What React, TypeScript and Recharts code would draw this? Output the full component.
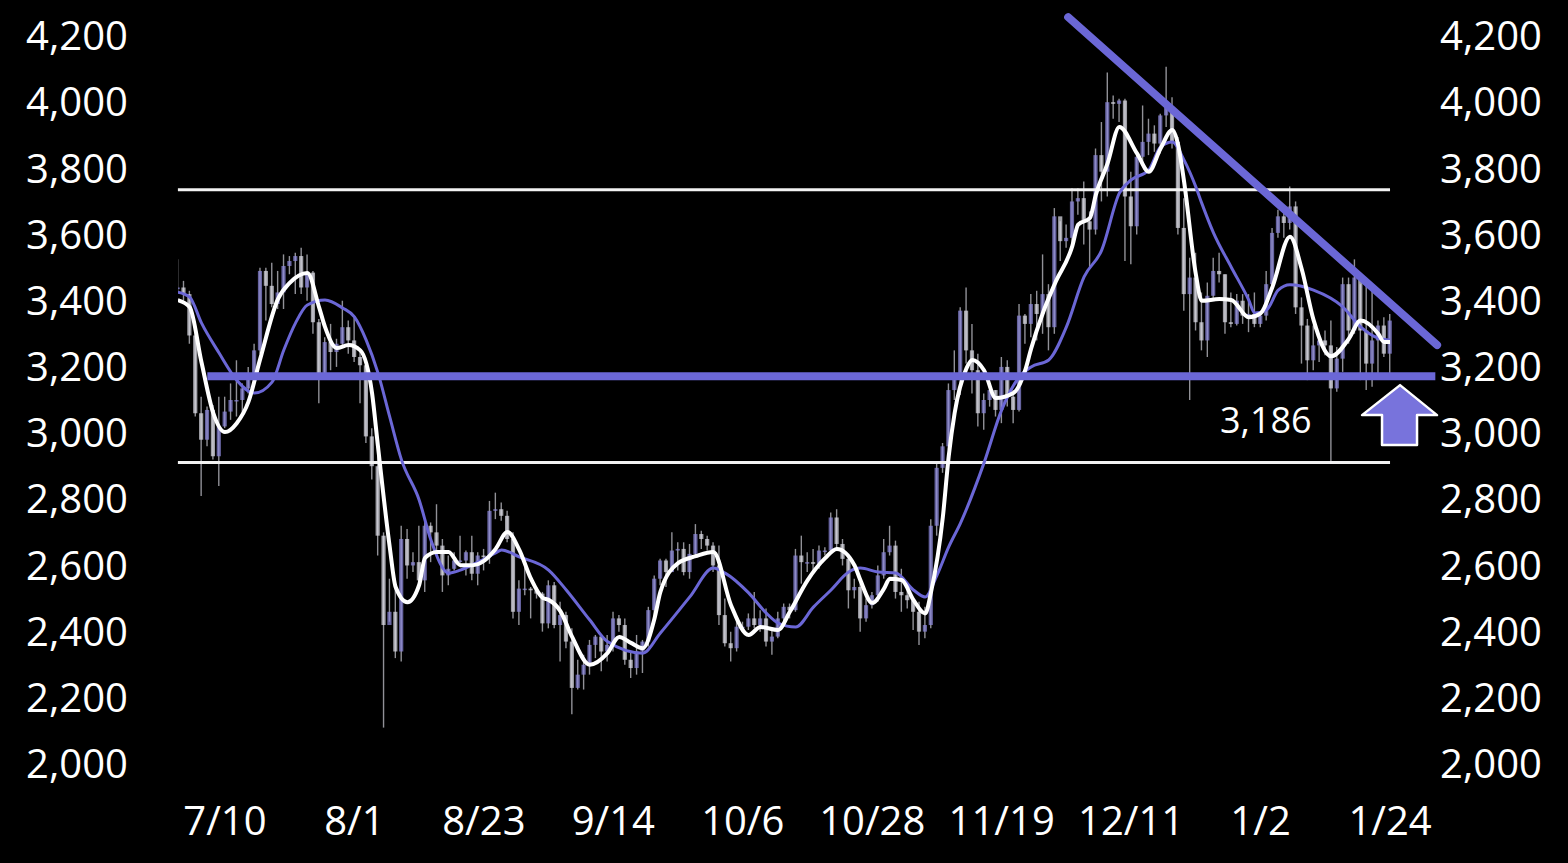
import {
  ComposedChart, Bar, Line, XAxis, YAxis, ReferenceLine, ReferenceDot,
} from 'recharts';

// x = days from 7/10 (first candle sits 8 days before the 7/10 tick)
const FIRST_DAY = -8;
const FIRST_OPEN = 3435;

const xTicks = [0, 22, 44, 66, 88, 110, 132, 154, 176, 198];
const xTickLabels = ['7/10', '8/1', '8/23', '9/14', '10/6', '10/28', '11/19', '12/11', '1/2', '1/24'];
const yTicks = [2000, 2200, 2400, 2600, 2800, 3000, 3200, 3400, 3600, 3800, 4000, 4200];

// daily closes (one per candle)
const closes = [
  // jul
  3440, 3420, 3295, 3060, 2980, 3070, 2930, 3020, 3065, 3100, 3100, 3135, 3175, 3250, 3490, 3445,
  3390, 3425, 3505, 3520, 3535, 3440, 3485, 3335, 3175, 3275, 3245, 3270, 3320, 3280, 3230,
  // aug
  3205, 2990, 2900, 2690, 2420, 2460, 2340, 2680, 2600, 2610, 2555, 2720, 2700, 2660, 2570, 2590,
  2615, 2615, 2640, 2575, 2630, 2625, 2765, 2770, 2750, 2680, 2460, 2530, 2530, 2525, 2515,
  // sep
  2425, 2540, 2420, 2450, 2370, 2230, 2270, 2300, 2360, 2385, 2340, 2360, 2440, 2420, 2315,
  2290, 2340, 2370, 2465, 2560, 2615, 2580, 2645, 2650, 2580, 2635, 2695, 2680, 2660, 2600,
  // oct
  2450, 2365, 2350, 2415, 2415, 2440, 2420, 2440, 2370, 2385, 2440, 2475, 2465, 2630, 2610, 2610,
  2605, 2645, 2645, 2745, 2665, 2620, 2525, 2535, 2440, 2480, 2510, 2570, 2640, 2660, 2520,
  // nov
  2510, 2495, 2460, 2400, 2420, 2720, 2895, 2960, 3130, 3180, 3370, 3250, 3190, 3060, 3100,
  3130, 3070, 3200, 3110, 3070, 3355, 3330, 3390, 3360, 3420, 3320, 3655, 3580, 3590, 3700,
  // dec
  3710, 3640, 3615, 3840, 3790, 4000, 3995, 4005, 3715, 3625, 3835, 3880, 3905, 3875, 3960, 3985,
  3880, 3620, 3420, 3470, 3335, 3280, 3415, 3490, 3480, 3335, 3330, 3400, 3355, 3360, 3330,
  // jan
  3355, 3450, 3605, 3655, 3635, 3685, 3380, 3325, 3220, 3265, 3280, 3265, 3135, 3225, 3450, 3310,
  3470, 3310, 3210, 3280, 3325, 3240, 3340,
];

const highs = [
  3525, 3460, 3430, 3305, 3110, 3080, 3085, 3110, 3110, 3150, 3220, 3150, 3200, 3270, 3500, 3500,
  3515, 3490, 3540, 3535, 3545, 3560, 3540, 3490, 3345, 3290, 3330, 3285, 3400, 3340, 3350,
  3245, 3220, 3015, 2935, 2700, 2560, 2560, 2720, 2710, 2640, 2720, 2740, 2730, 2785, 2680, 2630,
  2640, 2690, 2645, 2690, 2640, 2650, 2795, 2820, 2790, 2765, 2700, 2555, 2600, 2535, 2535,
  2520, 2555, 2550, 2490, 2460, 2410, 2315, 2330, 2375, 2390, 2390, 2390, 2460, 2450, 2440,
  2340, 2390, 2375, 2475, 2570, 2620, 2620, 2700, 2670, 2670, 2665, 2725, 2705, 2690, 2670,
  2660, 2500, 2400, 2440, 2430, 2455, 2520, 2465, 2470, 2410, 2460, 2485, 2485, 2650, 2690, 2640,
  2650, 2660, 2655, 2760, 2770, 2680, 2630, 2560, 2560, 2500, 2520, 2600, 2680, 2720, 2675,
  2590, 2530, 2500, 2490, 2475, 2740, 2910, 2970, 3150, 3250, 3380, 3440, 3330, 3240, 3120,
  3150, 3130, 3230, 3220, 3130, 3390, 3360, 3420, 3430, 3540, 3450, 3680, 3640, 3630, 3740,
  3740, 3760, 3670, 3860, 3940, 4090, 4020, 4010, 4010, 3790, 3845, 3990, 3950, 3930, 3965, 4107,
  4015, 3895, 3710, 3530, 3545, 3425, 3455, 3530, 3545, 3480, 3425, 3420, 3420, 3420, 3425,
  3365, 3490, 3620, 3675, 3675, 3745, 3700, 3410, 3345, 3325, 3300, 3310, 3340, 3260, 3470, 3470,
  3525, 3450, 3450, 3450, 3340, 3350, 3360,
];

const lows = [
  3420, 3400, 3270, 3050, 2810, 2960, 2920, 2840, 3015, 3040, 3050, 3050, 3120, 3160, 3240, 3340,
  3380, 3375, 3375, 3480, 3420, 3420, 3400, 3300, 3090, 3170, 3190, 3200, 3260, 3240, 3215,
  3090, 2970, 2860, 2630, 2110, 2430, 2320, 2310, 2560, 2580, 2540, 2520, 2610, 2640, 2520, 2540,
  2585, 2605, 2570, 2555, 2540, 2585, 2605, 2740, 2735, 2670, 2440, 2420, 2510, 2440, 2500,
  2400, 2410, 2410, 2310, 2350, 2150, 2225, 2225, 2270, 2320, 2280, 2310, 2340, 2400, 2300,
  2260, 2270, 2275, 2355, 2440, 2540, 2535, 2580, 2585, 2570, 2560, 2630, 2650, 2645, 2580,
  2420, 2355, 2310, 2340, 2400, 2405, 2410, 2400, 2355, 2330, 2380, 2430, 2440, 2460, 2545, 2580,
  2580, 2590, 2630, 2635, 2650, 2600, 2470, 2500, 2400, 2430, 2470, 2490, 2560, 2630, 2500,
  2460, 2470, 2405, 2360, 2380, 2410, 2690, 2880, 2950, 3100, 3115, 3210, 3120, 3020, 3010,
  3080, 3050, 3030, 3080, 3030, 3065, 3270, 3290, 3280, 3300, 3250, 3300, 3520, 3560, 3570,
  3660, 3570, 3500, 3600, 3700, 3715, 3950, 3940, 3520, 3510, 3600, 3815, 3840, 3850, 3845, 3925,
  3860, 3600, 3370, 3100, 3310, 3250, 3230, 3400, 3455, 3300, 3320, 3325, 3330, 3305, 3320,
  3320, 3340, 3440, 3590, 3590, 3615, 3360, 3210, 3160, 3190, 3215, 3235, 2910, 3125, 3185, 3270,
  3300, 3160, 3130, 3140, 3180, 3230, 3180,
];

// white short moving average [day, value]
const fastLine: [number, number][] = [
  [-8, 3402], [-6, 3381], [-4, 3215], [-2, 3061], [0, 3003], [2, 3030], [4, 3095], [6, 3225],
  [9, 3405], [11, 3454], [14, 3484], [16, 3380], [17, 3321], [19, 3257], [21, 3266], [23, 3250],
  [25, 3120], [26, 2960], [28, 2656], [29, 2535], [31, 2489], [33, 2541], [34, 2623], [36, 2641],
  [38, 2641], [40, 2601], [42, 2601], [44, 2614], [46, 2650], [48, 2701], [50, 2648], [52, 2560],
  [54, 2502], [55, 2496], [57, 2462], [59, 2384], [62, 2300], [65, 2335], [67, 2384], [69, 2366],
  [71, 2350], [73, 2440], [74, 2520], [77, 2607], [80, 2628], [83, 2641], [86, 2480], [89, 2390],
  [91, 2414], [94, 2405], [96, 2460], [99, 2555], [102, 2622], [104, 2650], [107, 2600], [108, 2555],
  [110, 2487], [112, 2530], [113, 2560], [115, 2556], [117, 2496], [119, 2455], [120, 2520],
  [122, 2746], [123, 2930], [124, 3060], [126, 3195], [127, 3221], [129, 3190], [131, 3106],
  [134, 3121], [136, 3190], [137, 3255], [139, 3363], [141, 3450], [144, 3565], [145, 3630],
  [147, 3650], [148, 3720], [150, 3815], [152, 3925], [155, 3845], [157, 3790], [159, 3860],
  [161, 3916], [162, 3870], [163, 3760], [165, 3480], [166, 3400], [169, 3405], [171, 3402],
  [174, 3350], [176, 3362], [178, 3441], [181, 3593], [183, 3495], [185, 3342], [188, 3232],
  [191, 3285], [193, 3340], [196, 3300], [197, 3275], [198, 3275],
];

// purple long moving average [day, value]
const slowLine: [number, number][] = [
  [-8, 3426], [-6, 3411], [-4, 3333], [-1, 3242], [2, 3160], [5, 3121], [8, 3154], [10, 3251],
  [12, 3333], [14, 3387], [17, 3402], [20, 3378], [22, 3351], [24, 3281], [26, 3182], [28, 3049],
  [30, 2919], [33, 2798], [35, 2677], [38, 2577], [40, 2586], [43, 2610], [46, 2638], [47, 2647],
  [50, 2626], [55, 2586], [58, 2526], [62, 2435], [65, 2370], [71, 2335], [74, 2396], [79, 2505],
  [83, 2592], [85, 2577], [89, 2517], [92, 2456], [94, 2426], [97, 2414], [100, 2474], [103, 2526],
  [106, 2580], [108, 2592], [111, 2580], [114, 2577], [117, 2526], [119, 2505], [121, 2570],
  [123, 2656], [125, 2728], [129, 2910], [132, 3070], [135, 3170], [137, 3200], [140, 3221],
  [143, 3321], [146, 3472], [149, 3553], [152, 3725], [154, 3765], [157, 3795], [159, 3865],
  [161, 3880], [163, 3825], [165, 3744], [166, 3695], [168, 3605], [171, 3502], [174, 3402],
  [175, 3363], [177, 3372], [179, 3432], [181, 3448], [185, 3432], [190, 3381], [193, 3321],
  [196, 3287], [198, 3281],
];

const UPPER_BAND = 3735;
const LOWER_BAND = 2911;
const SUPPORT = 3172;
const SUPPORT_LABEL = '3,186';
const trendStart = { x: 143.3, y: 4257 };
const trendEnd = { x: 206, y: 3266 };

const PURPLE = '#6b67d6';

const candles = closes.map((c, i) => ({
  x: FIRST_DAY + i,
  wick: [lows[i], highs[i]],
  open: i === 0 ? FIRST_OPEN : closes[i - 1],
  close: c,
  high: highs[i],
  low: lows[i],
}));
const fastData = fastLine.map(([x, v]) => ({ x, v }));
const slowData = slowLine.map(([x, v]) => ({ x, v }));

const Candle = (props: any) => {
  const { x, y, width, height, payload } = props;
  if (x == null || !payload) return null;
  const top = Math.min(y, y + height);
  const h = Math.abs(height);
  const k = h / (payload.high - payload.low || 1);
  const cx = x + width / 2;
  const bTop = top + (payload.high - Math.max(payload.open, payload.close)) * k;
  const bH = Math.max(1.5, Math.abs(payload.open - payload.close) * k);
  const up = payload.close >= payload.open;
  return (
    <g>
      <line x1={cx} x2={cx} y1={top} y2={top + h} stroke="#cfcfd8" strokeWidth={1.4} opacity={0.7} />
      <rect x={cx - 2.1} y={bTop} width={4.2} height={bH} fill={up ? '#8d89dc' : '#dcdce6'} opacity={0.72} />
    </g>
  );
};

const Arrow = (props: any) => {
  const { cx, cy } = props;
  if (cx == null) return null;
  const pts = [
    [cx, cy], [cx + 37, cy + 30], [cx + 17, cy + 30], [cx + 17, cy + 60],
    [cx - 18, cy + 60], [cx - 18, cy + 30], [cx - 38, cy + 30],
  ].map((p) => p.join(',')).join(' ');
  return <polygon points={pts} fill="#7873dc" stroke="#fff" strokeWidth={2.5} strokeLinejoin="round" />;
};

const tickStyle = { fill: '#fff', fontSize: 40, fontFamily: 'Open Sans, sans-serif' };

export default function App() {
  return (
    <div style={{ position: 'absolute', left: 0, top: 0, width: 1568, height: 863, background: '#000' }}>
      <ComposedChart
        width={1568}
        height={863}
        data={candles}
        margin={{ top: 2.9, right: 0, bottom: 0, left: 0 }}
      >
        <XAxis
          type="number"
          dataKey="x"
          domain={[-8, 206]}
          ticks={xTicks}
          interval={0}
          tickFormatter={(v: number) => xTickLabels[xTicks.indexOf(v)] ?? ''}
          axisLine={false}
          tickLine={false}
          tickSize={0}
          tickMargin={9}
          height={65.9}
          tick={tickStyle}
          allowDataOverflow
        />
        <YAxis
          yAxisId="l"
          orientation="left"
          domain={[1900, 4300]}
          ticks={yTicks}
          interval={0}
          width={177.9}
          axisLine={false}
          tickLine={false}
          tickSize={0}
          tickMargin={50}
          tick={tickStyle}
          tickFormatter={(v: number) => v.toLocaleString('en-US')}
          allowDataOverflow
        />
        <YAxis
          yAxisId="r"
          orientation="right"
          domain={[1900, 4300]}
          ticks={yTicks}
          interval={0}
          width={130.9}
          axisLine={false}
          tickLine={false}
          tickSize={0}
          tickMargin={3}
          tick={{ ...tickStyle, textAnchor: 'start' }}
          tickFormatter={(v: number) => v.toLocaleString('en-US')}
          allowDataOverflow
        />
        <ReferenceLine yAxisId="l" segment={[{ x: -8, y: UPPER_BAND }, { x: 198, y: UPPER_BAND }]} stroke="#f2f2f2" strokeWidth={3} />
        <ReferenceLine yAxisId="l" segment={[{ x: -8, y: LOWER_BAND }, { x: 198, y: LOWER_BAND }]} stroke="#f2f2f2" strokeWidth={3} />
        <Bar yAxisId="l" dataKey="wick" barSize={6} shape={Candle} isAnimationActive={false} />
        <Line yAxisId="l" data={slowData} dataKey="v" type="monotone" stroke={PURPLE} strokeWidth={3} dot={false} isAnimationActive={false} />
        <Line yAxisId="l" data={fastData} dataKey="v" type="monotone" stroke="#fff" strokeWidth={4} dot={false} isAnimationActive={false} />
        <ReferenceLine yAxisId="l" segment={[{ x: -3, y: SUPPORT }, { x: 205.7, y: SUPPORT }]} stroke={PURPLE} strokeWidth={8} />
        <ReferenceLine yAxisId="l" segment={[trendStart, trendEnd]} stroke={PURPLE} strokeWidth={8} strokeLinecap="round" />
        <ReferenceDot
          yAxisId="l"
          x={176.9}
          y={3040}
          r={0}
          fill="none"
          stroke="none"
          label={{ value: SUPPORT_LABEL, fill: '#fff', fontSize: 36, fontFamily: 'Open Sans, sans-serif', position: 'center' }}
        />
        <ReferenceDot yAxisId="l" x={199.7} y={3145} r={1} shape={Arrow} />
      </ComposedChart>
    </div>
  );
}
